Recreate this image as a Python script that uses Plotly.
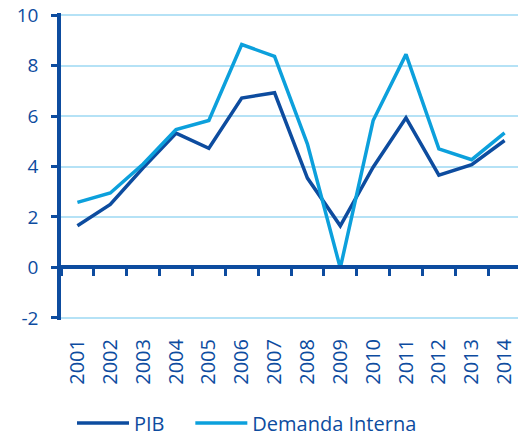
import plotly.graph_objects as go

years = ["2001","2002","2003","2004","2005","2006","2007","2008","2009","2010","2011","2012","2013","2014"]
pib = [1.65, 2.5, 3.95, 5.32, 4.72, 6.71, 6.92, 3.54, 1.65, 3.97, 5.93, 3.66, 4.07, 5.03]
demanda = [2.58, 2.95, 4.1, 5.46, 5.82, 8.83, 8.36, 4.89, -0.02, 5.82, 8.44, 4.70, 4.27, 5.33]
yticks = [-2, 0, 2, 4, 6, 8, 10]
yticktext = ["-2", "0", "2", "4", "6", "8", "10"]
series_names = ["PIB", "Demanda Interna"]

DARK = "#0d4c9f"
LIGHT = "#0ca0dc"
GRID = "#b5e2f6"
FONT = "Open Sans"
NB = "\u00a0"

fig = go.Figure()
fig.add_trace(go.Scatter(x=years, y=pib, mode="lines", name=series_names[0] + NB * 4,
                         line=dict(color=DARK, width=3.5)))
fig.add_trace(go.Scatter(x=years, y=demanda, mode="lines", name=series_names[1],
                         line=dict(color=LIGHT, width=3.5)))
# invisible trace for the zero-axis with ticks
fig.add_trace(go.Scatter(x=years, y=[None]*len(years), xaxis="x2", showlegend=False,
                         hoverinfo="skip", mode="lines"))

fig.update_layout(
    width=518, height=429,
    margin=dict(l=53, r=5, t=5, b=117, autoexpand=False),
    paper_bgcolor="white", plot_bgcolor="white",
    font=dict(family=FONT, color=DARK, size=19),
    xaxis=dict(type="category", categoryorder="array", categoryarray=years,
               range=[-0.5, 13.5], showgrid=False, showline=False, ticks="",
               tickangle=-90, tickfont=dict(size=20, color=DARK),
               ticklabelstandoff=14, automargin=False),
    xaxis2=dict(type="category", categoryorder="array", categoryarray=years,
                range=[-0.5, 13.5], overlaying="x", anchor="free",
                position=2.08 / 12.16,
                showline=True, linecolor=DARK, linewidth=3.5,
                ticks="outside", tickson="boundaries", ticklen=7, tickwidth=3,
                tickcolor=DARK, showticklabels=False, showgrid=False, automargin=False),
    yaxis=dict(range=[-2.08, 10.08], tickvals=yticks, ticktext=yticktext, showgrid=True,
               gridcolor=GRID, gridwidth=1.5, zeroline=False, showline=True,
               linecolor=DARK, linewidth=3.5, ticks="outside", ticklen=6, tickwidth=3,
               tickcolor=DARK, tickfont=dict(size=19, color=DARK), ticklabelstandoff=9,
               ticklabeloverflow="allow", automargin=False),
    legend=dict(orientation="h", xref="container", yref="container",
                x=64/518, xanchor="left", y=0.0326, yanchor="middle",
                itemwidth=52,
                font=dict(size=20, color=DARK), bgcolor="rgba(0,0,0,0)"),
    showlegend=True,
)

fig.write_html("out.html")
